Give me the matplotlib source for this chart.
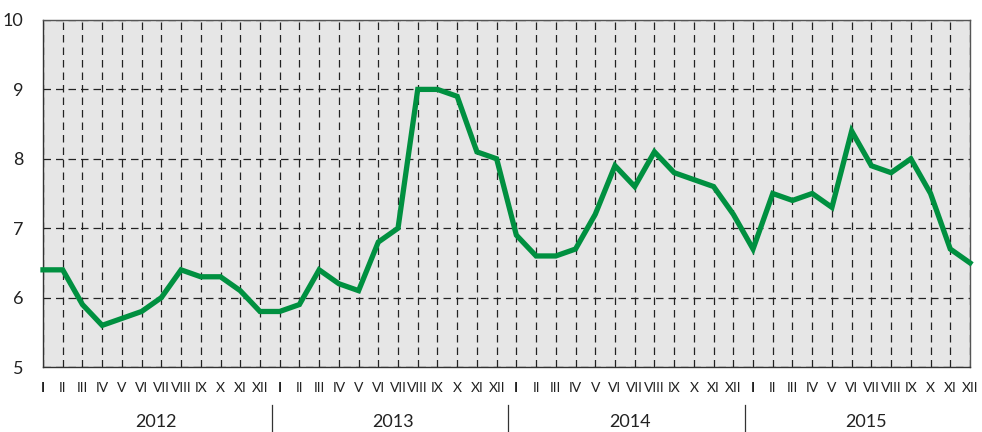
import matplotlib
matplotlib.use("Agg")
import matplotlib.pyplot as plt
import matplotlib.transforms as mtransforms
from matplotlib import font_manager

plt.rcParams['font.family'] = ['Lato', 'DejaVu Sans']

years = ["2012", "2013", "2014", "2015"]
months = ["I", "II", "III", "IV", "V", "VI", "VII", "VIII", "IX", "X", "XI", "XII"]
values = [
    6.4, 6.4, 5.9, 5.6, 5.7, 5.8, 6.0, 6.4, 6.3, 6.3, 6.1, 5.8,
    5.8, 5.9, 6.4, 6.2, 6.1, 6.8, 7.0, 9.0, 9.0, 8.9, 8.1, 8.0,
    6.9, 6.6, 6.6, 6.7, 7.2, 7.9, 7.6, 8.1, 7.8, 7.7, 7.6, 7.2,
    6.7, 7.5, 7.4, 7.5, 7.3, 8.4, 7.9, 7.8, 8.0, 7.5, 6.7, 6.5,
]
y_ticks = [5, 6, 7, 8, 9, 10]

n = len(values)
x = list(range(n))
labels = months * len(years)

narrow = None
for f in font_manager.fontManager.ttflist:
    if 'Narrow' in f.name and 'Liberation' in f.name:
        narrow = f.name
        break
month_family = [narrow, 'Lato'] if narrow else ['Lato']

fig = plt.figure(figsize=(9.82, 4.32), dpi=100)
ax = fig.add_axes([43/982, 65/432, 927/982, 347/432])
ax.set_facecolor('#e6e6e6')

ax.set_xlim(0, n - 1)
ax.set_ylim(5, 10)
ax.set_yticks(y_ticks)
ax.set_xticks(x)
ax.set_xticklabels(labels)
for i, t in enumerate(ax.get_xticklabels()):
    t.set_family(month_family)
    t.set_fontsize(12 if narrow else 10)
    t.set_color('#222222')
    if i % 12 == 0:
        t.set_fontweight('bold')
for t in ax.get_yticklabels():
    t.set_fontsize(13)
    t.set_color('#222222')

ax.tick_params(axis='x', length=0, pad=11)
ax.tick_params(axis='y', length=0, pad=14)

ax.grid(True, which='major', axis='both', color='#222222', linestyle=(0, (6, 4)), linewidth=0.9)
ax.set_axisbelow(True)

for s in ax.spines.values():
    s.set_color('#555555')
    s.set_linewidth(1.0)
ax.spines['left'].set_color('#333333')
ax.spines['bottom'].set_color('#333333')

ax.plot(x, values, color='#009040', linewidth=3.8, solid_joinstyle='miter', zorder=3, clip_on=False)

trans = mtransforms.blended_transform_factory(ax.transData, ax.transAxes)
for k in range(1, len(years)):
    xs = 12 * k - 0.4
    ax.plot([xs, xs], [-0.11, -0.19], transform=trans, color='#333333', linewidth=0.9, clip_on=False)
for k, yr in enumerate(years):
    ax.text(12 * k + 5.75, -0.158, yr, transform=trans, ha='center', va='center', fontsize=13, color='#222222')

fig.savefig('out.png', dpi=100)
